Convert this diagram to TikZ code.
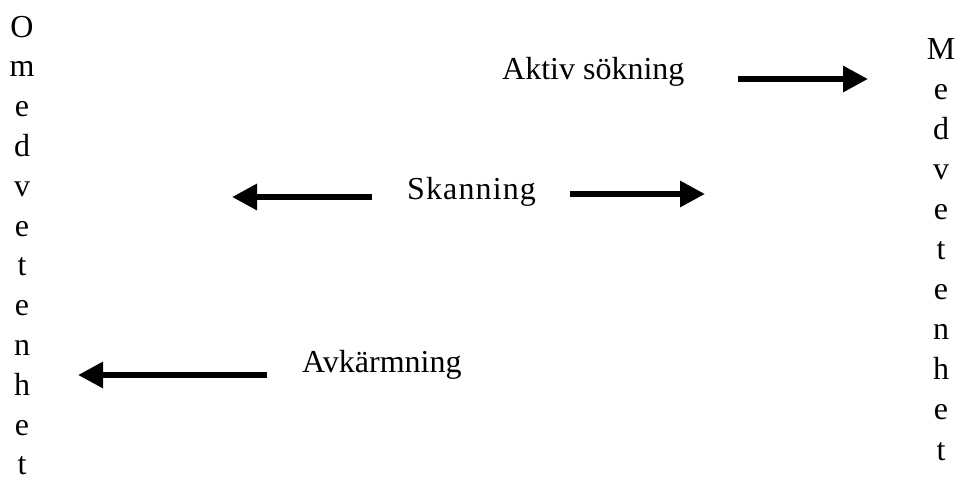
\documentclass[tikz,border=0pt]{standalone}
\usepackage{fontspec}
\setmainfont{Liberation Serif}
\usetikzlibrary{arrows.meta}
\tikzset{
  lbl/.style={anchor=base west, inner sep=0pt, font=\fontsize{32}{40}\selectfont},
  letter/.style={anchor=base, inner sep=0pt, font=\fontsize{32}{40}\selectfont},
  fat/.style={line width=6pt, -{Triangle[length=25pt,width=25pt]}}
}
\begin{document}
\begin{tikzpicture}[x=1pt,y=-1pt]
\useasboundingbox (0,0) rectangle (960,482);
% left column
\foreach \c [count=\i from 0] in {O,m,e,d,v,e,t,e,n,h,e,t}
  \node[letter] (l\i) at (22,37+39.8*\i) {\c};
% right column
\foreach \c [count=\i from 0] in {M,e,d,v,e,t,e,n,h,e,t}
  \node[letter] (r\i) at (941,59+40.1*\i) {\c};
% labels
\node[lbl] (aktiv) at (502,79) {Aktiv sökning};
\node[lbl] (skan) at (407,199) {\addfontfeature{LetterSpace=3.5}Skanning};
\node[lbl] (avk) at (302,372) {Avkärmning};
% arrow endpoints
\coordinate (a1) at (738,79);  \coordinate (a2) at (868,79);
\coordinate (s1) at (372,197); \coordinate (s2) at (232,197);
\coordinate (s3) at (570,194); \coordinate (s4) at (705,194);
\coordinate (v1) at (267,375); \coordinate (v2) at (78,375);
\draw[fat] (a1) -- (a2);
\draw[fat] (s1) -- (s2);
\draw[fat] (s3) -- (s4);
\draw[fat] (v1) -- (v2);
\end{tikzpicture}
\end{document}
